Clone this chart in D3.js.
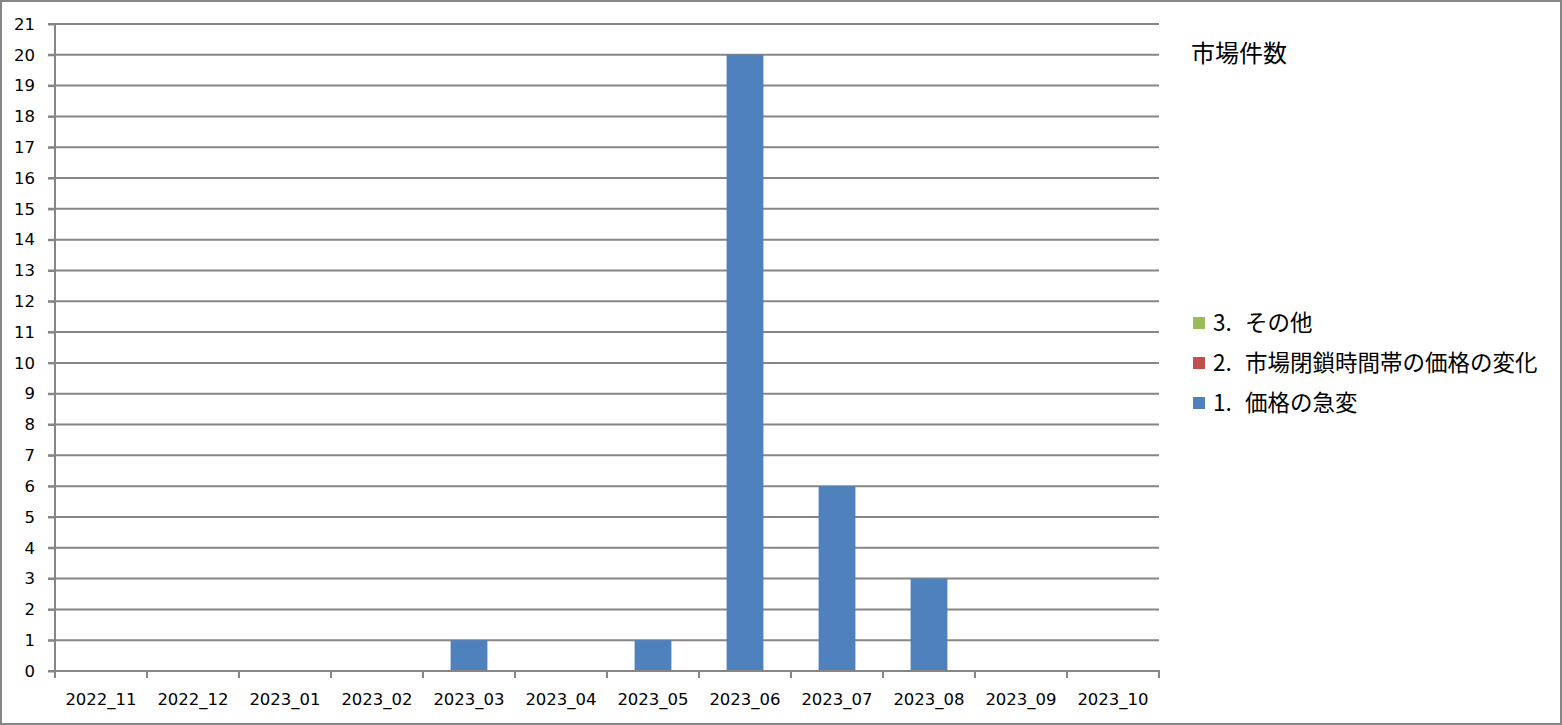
<!DOCTYPE html>
<html>
<head>
<meta charset="utf-8">
<script src="https://cdn.jsdelivr.net/npm/d3@7/dist/d3.min.js"></script>
<style>
  html, body { margin: 0; padding: 0; background: #fff; }
  svg { display: block; }
</style>
</head>
<body>
<svg id="chart" width="1562" height="725"></svg>
<script>
const categories = ["2022_11","2022_12","2023_01","2023_02","2023_03","2023_04","2023_05","2023_06","2023_07","2023_08","2023_09","2023_10"];
const seriesNums = ["1.", "2.", "3."];
const seriesNames = ["価格の急変", "市場閉鎖時間帯の価格の変化", "その他"];
const series1 = [0,0,0,0,1,0,1,20,6,3,0,0];
const series2 = [0,0,0,0,0,0,0,0,0,0,0,0];
const series3 = [0,0,0,0,0,0,0,0,0,0,0,0];
const seriesColors = ["#4F81BD", "#C0504D", "#9BBB59"];
const yTicks = d3.range(0, 22);
const legendTitle = "市場件数";

const svg = d3.select("#chart");
const W = 1562, H = 725;
const plot = {left: 55, right: 1159, top: 24, bottom: 671};

svg.append("rect").attr("x", 1).attr("y", 1).attr("width", W - 2).attr("height", H - 2)
  .attr("fill", "#fff").attr("stroke", "#868686").attr("stroke-width", 2);

const x = d3.scaleBand().domain(categories).range([plot.left, plot.right]).paddingInner(0.6).paddingOuter(0.3);
const xb = d3.scaleBand().domain(categories).range([plot.left, plot.right]);
const y = d3.scaleLinear().domain([0, 21]).range([plot.bottom, plot.top]);

const table = categories.map((c, i) => ({cat: c, s0: series1[i], s1: series2[i], s2: series3[i]}));
const stack = d3.stack().keys(["s0", "s1", "s2"])(table);

// gridlines
svg.append("g").selectAll("line").data(yTicks).join("line")
  .attr("x1", plot.left - 7).attr("x2", plot.right)
  .attr("y1", d => y(d)).attr("y2", d => y(d))
  .attr("stroke", "#868686").attr("stroke-width", 2);

// bars
svg.append("g").selectAll("g").data(stack).join("g")
  .attr("fill", (d, i) => seriesColors[i])
  .selectAll("rect").data(d => d.filter(v => v[1] - v[0] > 0)).join("rect")
  .attr("x", d => x(d.data.cat))
  .attr("width", x.bandwidth())
  .attr("y", d => y(d[1]))
  .attr("height", d => y(d[0]) - y(d[1]));

const tickFont = "DejaVu Sans, Verdana, sans-serif";

// y axis
const yAxis = d3.axisLeft(y).tickValues(yTicks).tickSize(7).tickPadding(13).tickFormat(d3.format("d"));
const yg = svg.append("g").attr("transform", `translate(${plot.left},0)`).call(yAxis);
yg.select(".domain").attr("stroke", "#868686").attr("stroke-width", 2).attr("d", `M0,${plot.top - 1}V${plot.bottom + 1}`);
yg.selectAll(".tick line").attr("stroke", "#868686").attr("stroke-width", 2);
yg.selectAll(".tick text").attr("font-family", tickFont).attr("font-size", 16.5).attr("fill", "#000");

// x axis
const xAxis = d3.axisBottom(xb).tickSize(0).tickPadding(22);
const xg = svg.append("g").attr("transform", `translate(0,${plot.bottom})`).call(xAxis);
xg.select(".domain").attr("stroke", "#868686").attr("stroke-width", 2).attr("d", `M${plot.left - 7},0H${plot.right + 1}`);
xg.selectAll(".tick text").attr("font-family", tickFont).attr("font-size", 16.5).attr("fill", "#000");
const bounds = categories.map(c => xb(c)).concat([plot.right]);
xg.append("g").selectAll("line").data(bounds).join("line")
  .attr("x1", d => d).attr("x2", d => d).attr("y1", 0).attr("y2", 7)
  .attr("stroke", "#868686").attr("stroke-width", 2);

// legend
const lg = svg.append("g");
lg.append("text").attr("x", 1191).attr("y", 62).text(legendTitle)
  .attr("font-family", "Noto Sans CJK JP, sans-serif").attr("font-size", 24).attr("fill", "#000");
const legendOrder = [2, 1, 0];
const rows = lg.selectAll("g.item").data(legendOrder).join("g").attr("class", "item")
  .attr("transform", (d, i) => `translate(1193,${323 + i * 40})`);
rows.append("rect").attr("x", 0).attr("y", -6).attr("width", 12).attr("height", 12).attr("fill", d => seriesColors[d]);
const t = rows.append("text").attr("y", 0).attr("dy", "0.36em")
  .attr("font-family", "Noto Sans CJK JP, sans-serif").attr("font-size", 22.5).attr("fill", "#000");
t.append("tspan").attr("x", 20).text(d => seriesNums[d]);
t.append("tspan").attr("x", 52).text(d => seriesNames[d]);
</script>
</body>
</html>
